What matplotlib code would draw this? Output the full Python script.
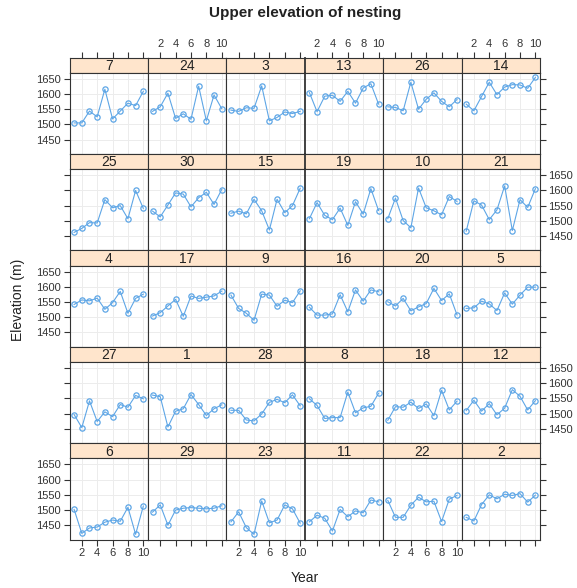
import numpy as np
import matplotlib
matplotlib.use('Agg')
from matplotlib import pyplot as plt

plt.rcParams['font.family'] = ['Liberation Sans', 'DejaVu Sans']

# panel layout, row by row from the top (lattice draws bottom-up, this is the printed order)
site_ids = [7, 24, 3, 13, 26, 14,
            25, 30, 15, 19, 10, 21,
            4, 17, 9, 16, 20, 5,
            27, 1, 28, 8, 18, 12,
            6, 29, 23, 11, 22, 2]

years = list(range(1, 11))

# upper nesting elevation (m) per site, years 1..10, same order as site_ids
elevation = [
    [1505, 1505, 1544, 1525, 1616, 1518, 1544, 1570, 1562, 1609],  # 7
    [1543, 1558, 1603, 1520, 1535, 1517, 1626, 1512, 1597, 1552],  # 24
    [1547, 1543, 1555, 1553, 1627, 1512, 1523, 1541, 1536, 1543],  # 3
    [1605, 1542, 1593, 1596, 1576, 1609, 1570, 1620, 1634, 1567],  # 13
    [1558, 1556, 1545, 1639, 1550, 1583, 1604, 1576, 1558, 1582],  # 26
    [1567, 1545, 1592, 1639, 1598, 1623, 1631, 1630, 1619, 1655],  # 14
    [1462, 1475, 1494, 1493, 1570, 1543, 1550, 1507, 1600, 1541],  # 25
    [1532, 1513, 1552, 1592, 1588, 1546, 1576, 1594, 1554, 1603],  # 30
    [1525, 1532, 1523, 1571, 1533, 1470, 1571, 1527, 1550, 1607],  # 15
    [1507, 1560, 1518, 1504, 1542, 1485, 1563, 1522, 1606, 1534],  # 19
    [1507, 1575, 1501, 1477, 1608, 1543, 1533, 1520, 1580, 1564],  # 10
    [1466, 1566, 1552, 1504, 1536, 1615, 1468, 1570, 1544, 1606],  # 21
    [1542, 1557, 1554, 1563, 1526, 1548, 1585, 1513, 1562, 1576],  # 4
    [1504, 1515, 1537, 1559, 1503, 1570, 1562, 1566, 1570, 1586],  # 17
    [1573, 1529, 1513, 1490, 1576, 1573, 1536, 1556, 1548, 1587],  # 9
    [1533, 1507, 1507, 1511, 1574, 1518, 1590, 1553, 1590, 1584],  # 16
    [1551, 1537, 1562, 1521, 1534, 1545, 1595, 1555, 1577, 1508],  # 20
    [1529, 1531, 1553, 1544, 1522, 1580, 1543, 1573, 1599, 1599],  # 5
    [1497, 1454, 1542, 1474, 1506, 1490, 1530, 1521, 1560, 1549],  # 27
    [1561, 1556, 1456, 1508, 1516, 1563, 1530, 1494, 1516, 1529],  # 1
    [1511, 1511, 1479, 1476, 1499, 1537, 1547, 1536, 1562, 1526],  # 28
    [1549, 1527, 1484, 1487, 1487, 1571, 1503, 1519, 1524, 1567],  # 8
    [1478, 1523, 1521, 1538, 1517, 1532, 1493, 1577, 1512, 1541],  # 18
    [1510, 1544, 1508, 1533, 1496, 1518, 1579, 1557, 1512, 1543],  # 12
    [1502, 1423, 1441, 1444, 1460, 1467, 1463, 1509, 1420, 1513],  # 6
    [1493, 1517, 1450, 1500, 1506, 1508, 1506, 1504, 1506, 1514],  # 29
    [1461, 1494, 1442, 1420, 1530, 1458, 1467, 1517, 1504, 1457],  # 23
    [1461, 1483, 1473, 1431, 1502, 1478, 1497, 1491, 1533, 1527],  # 11
    [1532, 1476, 1476, 1516, 1542, 1527, 1529, 1462, 1536, 1548],  # 22
    [1476, 1464, 1518, 1550, 1537, 1552, 1548, 1554, 1526, 1549],  # 2
]

x_ticks = [2, 4, 6, 8, 10]
y_ticks = [1450, 1500, 1550, 1600, 1650]

NROW, NCOL = 5, 6
W, H = 577, 588
LEFT, RIGHT = 69.5, 540.0      # pixels
TOP, BOTTOM = 57.5, 539.5
STRIP_H = 15.3
col_w = (RIGHT - LEFT) / NCOL
row_h = (BOTTOM - TOP) / NROW

XLIM = (0.4, 10.6)
YLIM = (1403, 1670)
LINE_COL = '#5ea6e6'
EDGE = '#333333'

def frac(x0, y0, w, h):
    # pixel box (top-left origin) to figure fraction
    return [x0 / W, 1 - (y0 + h) / H, w / W, h / H]

fig = plt.figure(figsize=(W / 100, H / 100), dpi=100)

for k, (sid, vals) in enumerate(zip(site_ids, elevation)):
    r, c = divmod(k, NCOL)
    x0 = LEFT + c * col_w
    y0 = TOP + r * row_h

    # strip
    sax = fig.add_axes(frac(x0, y0, col_w, STRIP_H))
    sax.set_facecolor('#ffe5cc')
    sax.set_xlim(XLIM)
    sax.set_yticks([])
    sax.text(0.5, 0.45, str(sid), transform=sax.transAxes, ha='center', va='center',
             fontsize=10, color='#222222')
    for sp in sax.spines.values():
        sp.set_color(EDGE)
        sp.set_linewidth(0.8)
    if r == 0:
        sax.xaxis.tick_top()
        sax.set_xticks(x_ticks)
        sax.tick_params(axis='x', direction='out', length=4, color=EDGE,
                        labelsize=8, labelcolor='#333333', pad=2)
        if c % 2 == 0:
            sax.set_xticklabels([])
    else:
        sax.set_xticks([])

    # panel
    ax = fig.add_axes(frac(x0, y0 + STRIP_H, col_w, row_h - STRIP_H))
    ax.set_xlim(XLIM)
    ax.set_ylim(YLIM)
    ax.set_xticks(x_ticks)
    ax.set_yticks(y_ticks)
    ax.grid(True, color='#ececec', linewidth=0.7)
    ax.set_axisbelow(True)
    ax.plot(years, vals, '-', color=LINE_COL, linewidth=0.8)
    ax.plot(years, vals, 'o', color=LINE_COL, markersize=3.8, mfc='none', mew=0.9)
    for sp in ax.spines.values():
        sp.set_color(EDGE)
        sp.set_linewidth(0.8)
    if c == 3:
        ax.spines['left'].set_linewidth(1.3)
        sax.spines['left'].set_linewidth(1.3)

    ax.tick_params(direction='out', length=4, color=EDGE, labelsize=8,
                   labelcolor='#333333', pad=2)
    # bottom axis, alternating labels
    if r == NROW - 1:
        ax.tick_params(axis='x', bottom=True, labelbottom=(c % 2 == 0))
    else:
        ax.tick_params(axis='x', bottom=False, labelbottom=False)
    # left / right axis, alternating labels
    ax.tick_params(axis='y', left=(c == 0), labelleft=(c == 0 and r % 2 == 0),
                   right=(c == NCOL - 1), labelright=(c == NCOL - 1 and r % 2 == 1))

fig.text((LEFT + RIGHT) / 2 / W, 1 - 13 / H, 'Upper elevation of nesting',
         ha='center', va='center', fontsize=11, fontweight='bold', color='#222222')
fig.text((LEFT + RIGHT) / 2 / W, 1 - 578 / H, 'Year',
         ha='center', va='center', fontsize=10, color='#222222')
fig.text(18 / W, 1 - 300 / H, 'Elevation (m)', rotation=90,
         ha='center', va='center', fontsize=10, color='#222222')

fig.savefig('out.png', dpi=100)
